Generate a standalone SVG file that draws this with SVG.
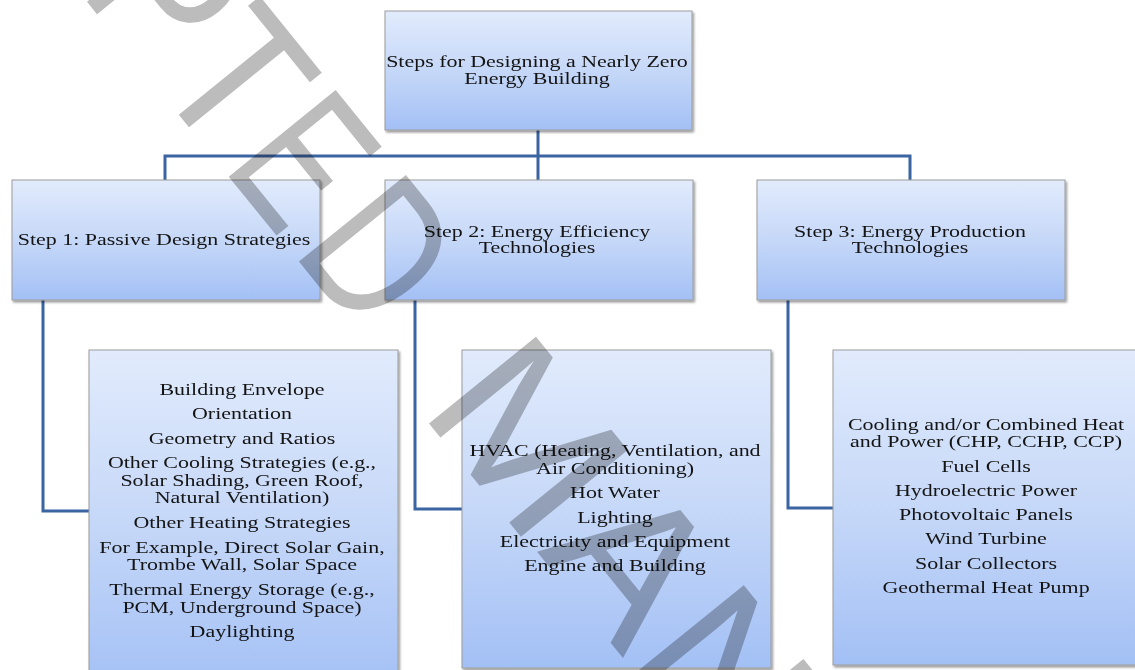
<svg xmlns="http://www.w3.org/2000/svg" width="1135" height="670" viewBox="0 0 1135 670">
<defs>
<linearGradient id="boxgrad" x1="0" y1="0" x2="0" y2="1">
<stop offset="0" stop-color="#e1ebfc"/>
<stop offset="0.5" stop-color="#c6d8f8"/>
<stop offset="1" stop-color="#a3c0f5"/>
</linearGradient>
<filter id="shadow" x="-5%" y="-5%" width="110%" height="110%">
<feDropShadow dx="1.5" dy="2" stdDeviation="1.2" flood-color="#000" flood-opacity="0.4"/>
</filter>
</defs>
<style>
.box{fill:url(#boxgrad);stroke:#9c9c9c;stroke-width:1;filter:url(#shadow)}
.conn{fill:none;stroke:#3a64a2;stroke-width:3}
.t{font-family:"Liberation Serif","Times New Roman",serif;font-size:17.5px;fill:#141414;text-anchor:middle}
.wm{font-family:"Liberation Sans",Arial,sans-serif;font-size:200px;fill:#bcbcbc;text-anchor:middle;mix-blend-mode:multiply}
</style>
<rect x="0" y="0" width="1135" height="670" fill="#ffffff"/>
<g id="connectors">
<path class="conn" d="M538,130 V156 M165,180 V156 H910 V180 M538,156 V180"/>
<path class="conn" d="M43,300 V511 H89"/>
<path class="conn" d="M415,300 V509 H462"/>
<path class="conn" d="M788,300 V508 H833"/>
</g>
<g id="root">
<rect class="box" x="385" y="11" width="307" height="119"/>
<g transform="translate(537,0) scale(1.255,1)">
<text class="t" x="0" y="67">Steps for Designing a Nearly Zero</text>
<text class="t" x="0" y="84">Energy Building</text>
</g>
</g>
<g id="step1">
<rect class="box" x="12" y="180" width="308" height="120"/>
<g transform="translate(164,0) scale(1.255,1)">
<text class="t" x="0" y="245">Step 1: Passive Design Strategies</text>
</g>
</g>
<g id="step2">
<rect class="box" x="385" y="180" width="308" height="120"/>
<g transform="translate(537,0) scale(1.255,1)">
<text class="t" x="0" y="237">Step 2: Energy Efficiency</text>
<text class="t" x="0" y="253">Technologies</text>
</g>
</g>
<g id="step3">
<rect class="box" x="757" y="180" width="308" height="120"/>
<g transform="translate(910,0) scale(1.255,1)">
<text class="t" x="0" y="237">Step 3: Energy Production</text>
<text class="t" x="0" y="253">Technologies</text>
</g>
</g>
<g id="list1">
<rect class="box" x="89" y="350" width="309" height="340"/>
<g transform="translate(242,0) scale(1.255,1)">
<text class="t" x="0" y="395">Building Envelope</text>
<text class="t" x="0" y="419">Orientation</text>
<text class="t" x="0" y="444">Geometry and Ratios</text>
<text class="t" x="0" y="468">Other Cooling Strategies (e.g.,</text>
<text class="t" x="0" y="486">Solar Shading, Green Roof,</text>
<text class="t" x="0" y="503">Natural Ventilation)</text>
<text class="t" x="0" y="528">Other Heating Strategies</text>
<text class="t" x="0" y="553">For Example, Direct Solar Gain,</text>
<text class="t" x="0" y="570">Trombe Wall, Solar Space</text>
<text class="t" x="0" y="595">Thermal Energy Storage (e.g.,</text>
<text class="t" x="0" y="613">PCM, Underground Space)</text>
<text class="t" x="0" y="637">Daylighting</text>
</g>
</g>
<g id="list2">
<rect class="box" x="462" y="350" width="309" height="318"/>
<g transform="translate(615,0) scale(1.255,1)">
<text class="t" x="0" y="456">HVAC (Heating, Ventilation, and</text>
<text class="t" x="0" y="474">Air Conditioning)</text>
<text class="t" x="0" y="498">Hot Water</text>
<text class="t" x="0" y="523">Lighting</text>
<text class="t" x="0" y="547">Electricity and Equipment</text>
<text class="t" x="0" y="571">Engine and Building</text>
</g>
</g>
<g id="list3">
<rect class="box" x="833" y="350" width="308" height="315"/>
<g transform="translate(986,0) scale(1.255,1)">
<text class="t" x="0" y="430">Cooling and/or Combined Heat</text>
<text class="t" x="0" y="447">and Power (CHP, CCHP, CCP)</text>
<text class="t" x="0" y="472">Fuel Cells</text>
<text class="t" x="0" y="496">Hydroelectric Power</text>
<text class="t" x="0" y="520">Photovoltaic Panels</text>
<text class="t" x="0" y="544">Wind Turbine</text>
<text class="t" x="0" y="569">Solar Collectors</text>
<text class="t" x="0" y="593">Geothermal Heat Pump</text>
</g>
</g>
<g id="watermark">
<text class="wm" transform="translate(114,35) rotate(51) scale(0.85,1)">P</text>
<text class="wm" transform="translate(184,121) rotate(51) scale(0.87,1)">T</text>
<text class="wm" transform="translate(251,204) rotate(51) scale(0.7,1)">E</text>
<text class="wm" transform="translate(326,295) rotate(51) scale(0.77,1)">D</text>
<text class="wm" transform="translate(475,480) rotate(51) scale(1.09,1)">M</text>
<text class="wm" transform="translate(580,605) rotate(51) scale(1.03,1)">A</text>
<text class="wm" transform="translate(672,715) rotate(51) scale(1,1)">N</text>
</g>
</svg>
